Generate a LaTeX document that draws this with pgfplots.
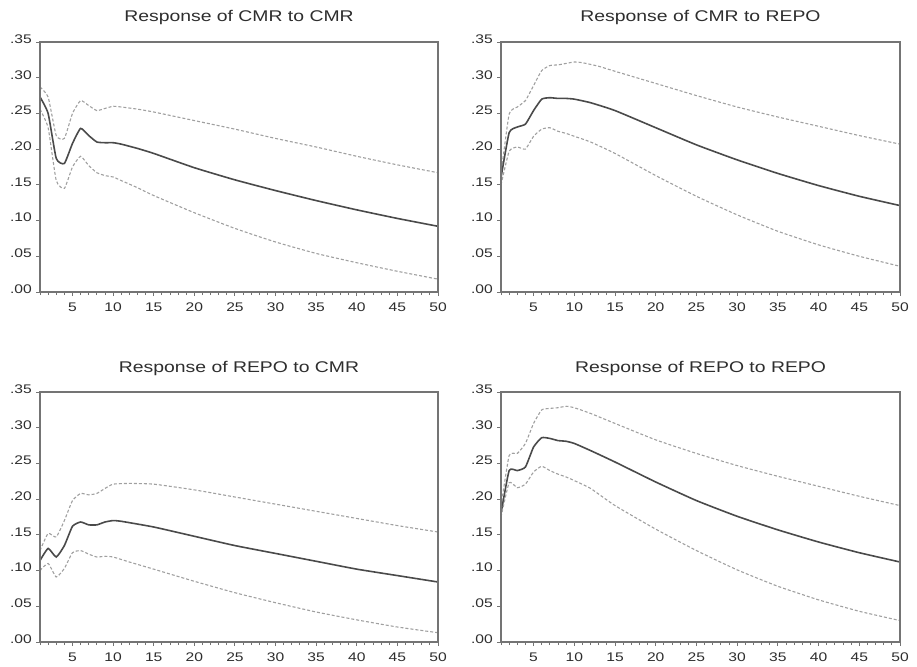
\documentclass[border=0pt]{standalone}
\usepackage{fontspec}
\setmainfont{Liberation Sans}[FakeStretch=1.25]
\usepackage{pgfplots}
\pgfplotsset{compat=1.18}

\definecolor{framegray}{HTML}{747474}
\definecolor{irfline}{HTML}{4A4A4A}
\definecolor{bandline}{HTML}{A0A0A0}
\definecolor{txt}{HTML}{2E2E2E}

\pgfplotsset{
  irf/.style={
    scale only axis,
    width=398pt, height=250pt,
    anchor=north west,
    xmin=1, xmax=50, ymin=0, ymax=0.35,
    xtick={5,10,...,50},
    minor xtick={1,...,50},
    ytick={0,0.05,...,0.35},
    yticklabels={.00,.05,.10,.15,.20,.25,.30,.35},
    tick pos=left,
    tick align=outside,
    major tick length=4pt,
    minor tick length=3pt,
    every tick/.style={framegray, line width=0.9pt},
    axis line style={framegray},
    after end axis/.code={
      \draw[framegray, line width=2.6pt] (rel axis cs:0,0) rectangle (rel axis cs:1,1);
    },
    /pgf/number format/assume math mode=true,
    ticklabel style={font=\fontsize{12.5}{14}\selectfont, text=txt, inner sep=0pt},
    yticklabel style={anchor=east, xshift=-4pt, yshift=3pt},
    xticklabel style={anchor=north, yshift=-7pt},
    title style={font=\fontsize{15.5}{18}\selectfont, text=txt, at={(0.5,1)}, anchor=center, yshift=18pt},
  },
  mid/.style={irfline, line width=1.6pt, smooth, tension=0.3},
  band/.style={bandline, line width=1.1pt, dash pattern=on 3pt off 2pt, smooth, tension=0.3},
}

\begin{document}
\begin{tikzpicture}
\useasboundingbox (0pt,0pt) rectangle (917pt,-666pt);

% top left
\begin{axis}[irf, at={(40pt,-42pt)}, title={Response of CMR to CMR}]
\addplot[band] coordinates {(1,0.287) (2,0.273) (3,0.219) (4,0.215) (5,0.250) (6,0.268) (7,0.261) (8,0.254) (9,0.257) (10,0.260) (11,0.259) (13,0.256) (15,0.252) (20,0.240) (25,0.228) (30,0.215) (35,0.203) (40,0.190) (45,0.178) (50,0.167)};
\addplot[mid] coordinates {(1,0.273) (2,0.250) (3,0.187) (4,0.180) (5,0.208) (6,0.229) (7,0.219) (8,0.210) (9,0.209) (10,0.209) (11,0.207) (13,0.201) (15,0.194) (20,0.174) (25,0.157) (30,0.142) (35,0.128) (40,0.115) (45,0.103) (50,0.092)};
\addplot[band] coordinates {(1,0.256) (2,0.230) (3,0.156) (4,0.145) (5,0.175) (6,0.190) (7,0.177) (8,0.167) (9,0.163) (10,0.161) (11,0.156) (13,0.146) (15,0.135) (20,0.111) (25,0.089) (30,0.070) (35,0.054) (40,0.041) (45,0.029) (50,0.018)};
\end{axis}

% top right
\begin{axis}[irf, at={(501pt,-42pt)}, width=399pt, title={Response of CMR to REPO}]
\addplot[band] coordinates {(1,0.165) (2,0.249) (3,0.259) (4,0.268) (5,0.289) (6,0.310) (7,0.317) (8,0.318) (9,0.320) (10,0.322) (11,0.321) (13,0.316) (15,0.309) (20,0.292) (25,0.275) (30,0.259) (35,0.245) (40,0.232) (45,0.219) (50,0.207)};
\addplot[mid] coordinates {(1,0.160) (2,0.223) (3,0.231) (4,0.235) (5,0.254) (6,0.270) (7,0.272) (8,0.271) (9,0.271) (10,0.270) (12,0.265) (15,0.254) (20,0.230) (25,0.206) (30,0.185) (35,0.166) (40,0.149) (45,0.134) (50,0.121)};
\addplot[band] coordinates {(1,0.150) (2,0.197) (3,0.203) (4,0.200) (5,0.218) (6,0.228) (7,0.230) (8,0.225) (9,0.222) (10,0.218) (12,0.210) (15,0.194) (20,0.163) (25,0.134) (30,0.108) (35,0.085) (40,0.066) (45,0.050) (50,0.036)};
\end{axis}

% bottom left
\begin{axis}[irf, at={(40pt,-392pt)}, title={Response of REPO to CMR}]
\addplot[band] coordinates {(1,0.128) (2,0.152) (3,0.147) (4,0.170) (5,0.198) (6,0.208) (7,0.206) (8,0.208) (9,0.215) (10,0.221) (12,0.222) (15,0.221) (20,0.213) (25,0.203) (30,0.193) (35,0.183) (40,0.173) (45,0.163) (50,0.154)};
\addplot[mid] coordinates {(1,0.114) (2,0.131) (3,0.119) (4,0.135) (5,0.162) (6,0.168) (7,0.164) (8,0.164) (9,0.168) (10,0.170) (11,0.169) (15,0.161) (20,0.148) (25,0.135) (30,0.124) (35,0.113) (40,0.102) (45,0.093) (50,0.084)};
\addplot[band] coordinates {(1,0.100) (2,0.110) (3,0.091) (4,0.103) (5,0.125) (6,0.128) (7,0.123) (8,0.119) (9,0.120) (10,0.119) (12,0.112) (15,0.102) (20,0.085) (25,0.069) (30,0.055) (35,0.042) (40,0.031) (45,0.021) (50,0.013)};
\end{axis}

% bottom right
\begin{axis}[irf, at={(501pt,-392pt)}, width=399pt, title={Response of REPO to REPO}]
\addplot[band] coordinates {(1,0.190) (2,0.261) (3,0.264) (4,0.278) (5,0.306) (6,0.325) (7,0.327) (8,0.328) (9,0.330) (10,0.328) (12,0.320) (15,0.306) (20,0.283) (25,0.264) (30,0.247) (35,0.232) (40,0.218) (45,0.204) (50,0.191)};
\addplot[mid] coordinates {(1,0.180) (2,0.240) (3,0.240) (4,0.245) (5,0.273) (6,0.286) (7,0.285) (8,0.282) (9,0.281) (10,0.278) (12,0.268) (15,0.252) (20,0.224) (25,0.198) (30,0.176) (35,0.157) (40,0.140) (45,0.125) (50,0.112)};
\addplot[band] coordinates {(1,0.175) (2,0.223) (3,0.216) (4,0.221) (5,0.238) (6,0.246) (7,0.240) (8,0.235) (9,0.231) (10,0.226) (12,0.215) (15,0.191) (20,0.158) (25,0.128) (30,0.101) (35,0.078) (40,0.059) (45,0.043) (50,0.030)};
\end{axis}
\end{tikzpicture}
\end{document}
